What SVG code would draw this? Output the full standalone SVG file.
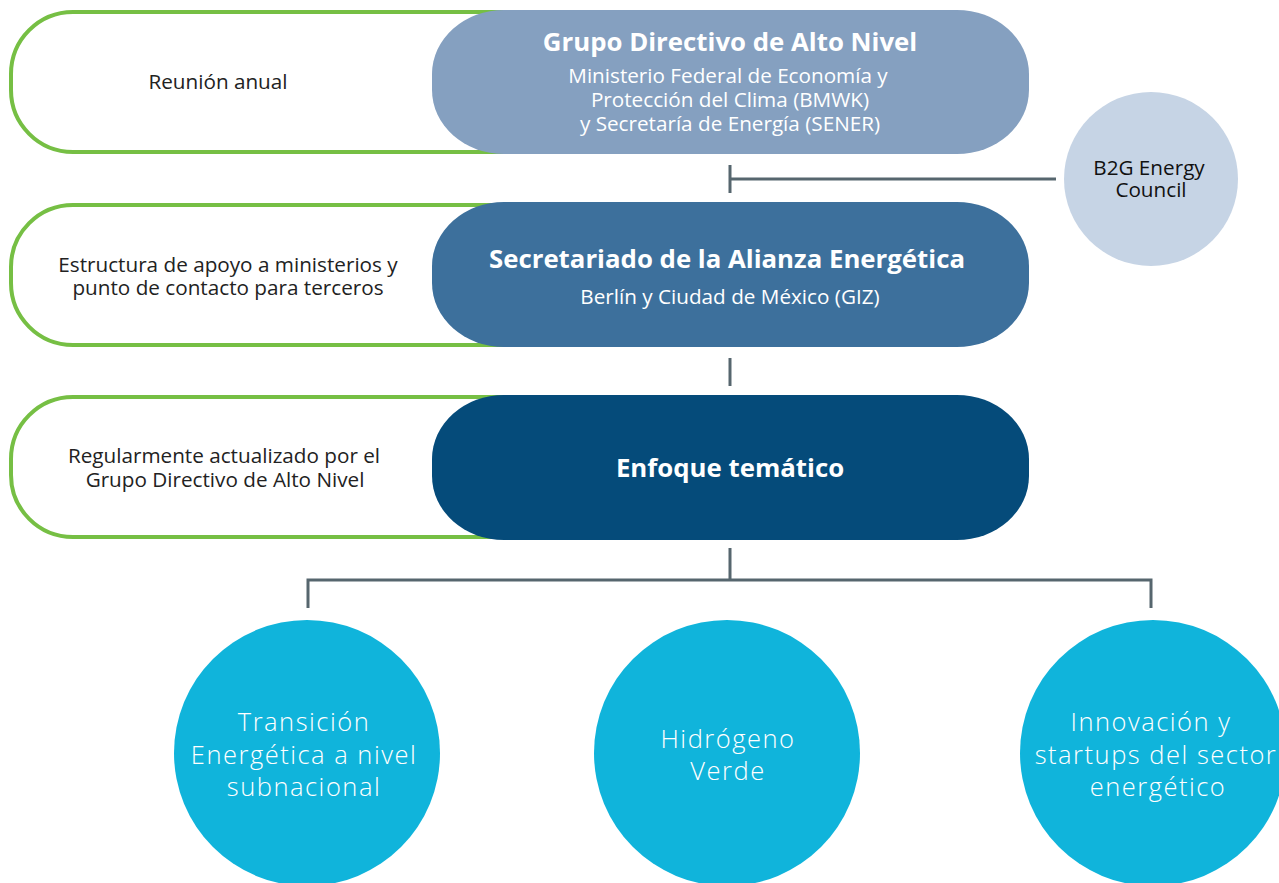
<svg xmlns="http://www.w3.org/2000/svg" width="1279" height="883" viewBox="0 0 1279 883">
<style>
.green{fill:#fff;stroke:#76BF44;stroke-width:4}
.note{font-family:"Open Sans","Noto Sans","Liberation Sans",sans-serif;font-size:20.7px;fill:#222;text-anchor:middle}
.title{font-family:"Open Sans","Noto Sans","Liberation Sans",sans-serif;font-size:25.8px;font-weight:bold;fill:#fff;text-anchor:middle}
.sub{font-family:"Open Sans","Noto Sans","Liberation Sans",sans-serif;font-size:20.7px;fill:#fff;text-anchor:middle}
.circ{font-family:"Open Sans","Noto Sans","Liberation Sans",sans-serif;font-size:25.5px;font-weight:300;letter-spacing:1.5px;fill:#fff;text-anchor:middle}
.b2g{font-family:"Open Sans","Noto Sans","Liberation Sans",sans-serif;font-size:20.7px;fill:#111;text-anchor:middle}
.conn{fill:none;stroke:#56666E;stroke-width:3}
</style>
<rect width="1279" height="883" fill="#fff"/>
<g id="connectors">
<path class="conn" d="M730 165V193M730 179H1056"/>
<path class="conn" d="M730 358V386"/>
<path class="conn" d="M730 548V580M308 608V580H1151V608"/>
</g>
<g id="note1">
<rect class="green" x="11" y="12" width="600" height="140" rx="62" ry="62"/>
<text class="note" x="218" y="89">Reunión anual</text>
</g>
<g id="note2">
<rect class="green" x="11" y="205" width="600" height="140" rx="62" ry="62"/>
<text class="note" x="228" y="272">Estructura de apoyo a ministerios y</text>
<text class="note" x="228" y="295">punto de contacto para terceros</text>
</g>
<g id="note3">
<rect class="green" x="11" y="397" width="600" height="140" rx="62" ry="62"/>
<text class="note" x="224" y="463">Regularmente actualizado por el</text>
<text class="note" x="225" y="487">Grupo Directivo de Alto Nivel</text>
</g>
<g id="grupo">
<rect x="432" y="10" width="597" height="144" rx="72" ry="64" fill="#85A0C0"/>
<text class="title" x="730" y="51">Grupo Directivo de Alto Nivel</text>
<text class="sub" x="728" y="83">Ministerio Federal de Economía y</text>
<text class="sub" x="730" y="107">Protección del Clima (BMWK)</text>
<text class="sub" x="730" y="131">y Secretaría de Energía (SENER)</text>
</g>
<g id="secretariado">
<rect x="432" y="202" width="597" height="145" rx="72" ry="64" fill="#3D709C"/>
<text class="title" x="727" y="268">Secretariado de la Alianza Energética</text>
<text class="sub" x="730" y="304">Berlín y Ciudad de México (GIZ)</text>
</g>
<g id="enfoque">
<rect x="432" y="395" width="597" height="145" rx="72" ry="64" fill="#054B7A"/>
<text class="title" x="730" y="477">Enfoque temático</text>
</g>
<g id="b2g">
<circle cx="1151" cy="179" r="87" fill="#C6D4E5"/>
<text class="b2g" x="1149" y="175">B2G Energy</text>
<text class="b2g" x="1151" y="197">Council</text>
</g>
<g id="transicion">
<circle cx="307" cy="753" r="133" fill="#10B4DB"/>
<text class="circ" x="304" y="731">Transición</text>
<text class="circ" x="304" y="764">Energética a nivel</text>
<text class="circ" x="304" y="796">subnacional</text>
</g>
<g id="hidrogeno">
<circle cx="727" cy="753" r="133" fill="#10B4DB"/>
<text class="circ" x="728" y="748">Hidrógeno</text>
<text class="circ" x="728" y="780">Verde</text>
</g>
<g id="innovacion">
<circle cx="1153" cy="753" r="133" fill="#10B4DB"/>
<text class="circ" x="1151" y="731">Innovación y</text>
<text class="circ" x="1156" y="764">startups del sector</text>
<text class="circ" x="1158" y="796">energético</text>
</g>
</svg>
